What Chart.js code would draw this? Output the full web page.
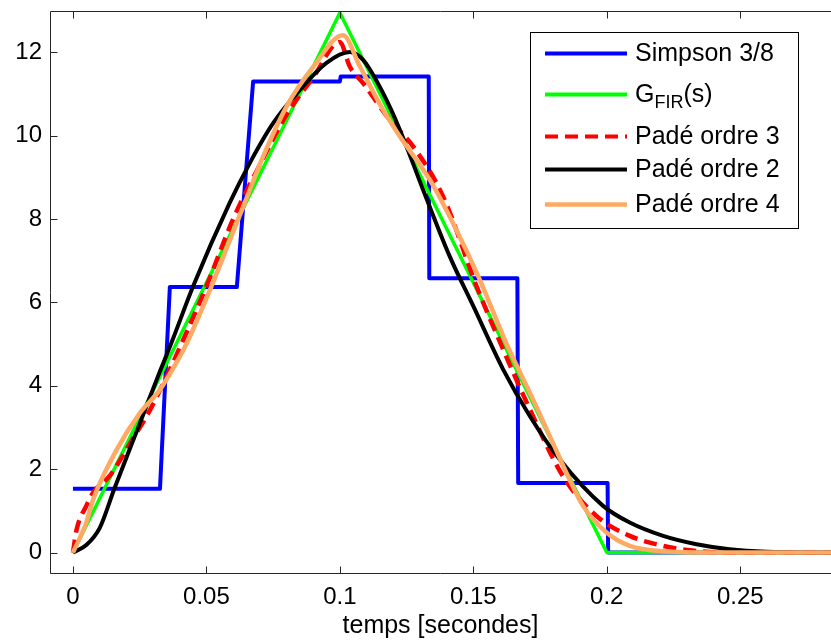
<!DOCTYPE html>
<html>
<head>
<meta charset="utf-8">
<script src="https://cdn.jsdelivr.net/npm/chart.js@4.4.0/dist/chart.umd.min.js"></script>
<style>
  html, body { margin: 0; padding: 0; background: #fff; }
  #wrap { width: 831px; height: 644px; }
</style>
</head>
<body>
<div id="wrap"><canvas id="response-chart"></canvas></div>
<script>
// tick values / labels
const xTicks = [0, 0.05, 0.1, 0.15, 0.2, 0.25];
const xTickLabels = ['0', '0.05', '0.1', '0.15', '0.2', '0.25'];
const yTicks = [0, 2, 4, 6, 8, 10, 12];
const yTickLabels = ['0', '2', '4', '6', '8', '10', '12'];

// Simpson 3/8 (staircase)
const simpsonT = [0, 0.0326, 0.0363, 0.0614, 0.0675, 0.1000, 0.1003, 0.1333, 0.1335, 0.1665, 0.1668, 0.2003, 0.2005, 0.284];
const simpsonY = [1.53, 1.53, 6.37, 6.37, 11.30, 11.30, 11.42, 11.42, 6.58, 6.58, 1.67, 1.67, 0, 0];

// G_FIR(s)
const firT = [0, 0.1, 0.2, 0.284];
const firY = [0, 12.95, 0, 0];

// Padé ordre 3
const pade3T = [0, 0.0014, 0.005, 0.0076, 0.0139, 0.0226, 0.0276, 0.0351, 0.0413, 0.05, 0.0600, 0.0700, 0.0800, 0.0900, 0.1, 0.1037, 0.1087, 0.1187, 0.1275, 0.1387, 0.1512, 0.1612, 0.17, 0.1836, 0.1961, 0.2086, 0.2211, 0.2335, 0.25, 0.284];
const pade3Y = [0, 0.56, 1.12, 1.44, 1.85, 2.75, 3.27, 4.23, 5.10, 6.39, 8.00, 9.30, 10.50, 11.40, 12.25, 11.66, 11.26, 10.38, 9.74, 8.54, 6.39, 4.87, 3.60, 1.83, 0.88, 0.40, 0.16, 0.04, 0, 0];

// Padé ordre 2
const pade2T = [0, 0.005, 0.0101, 0.0155, 0.0251, 0.0326, 0.037, 0.0451, 0.0588, 0.0663, 0.075, 0.085, 0.095, 0.1037, 0.1087, 0.1162, 0.1225, 0.1312, 0.1412, 0.15, 0.1612, 0.1712, 0.1824, 0.1986, 0.2086, 0.2211, 0.2336, 0.246, 0.26, 0.284];
const pade2Y = [0, 0.18, 0.60, 1.53, 3.11, 4.35, 5.05, 6.40, 8.40, 9.35, 10.30, 11.10, 11.75, 12.01, 11.82, 11.02, 10.14, 8.70, 7.10, 5.91, 4.39, 3.27, 2.23, 1.12, 0.72, 0.40, 0.20, 0.08, 0.02, 0];

// Padé ordre 4
const pade4T = [0, 0.005, 0.0076, 0.0164, 0.0251, 0.0326, 0.04, 0.0432, 0.0519, 0.0576, 0.0644, 0.0707, 0.0800, 0.0900, 0.1012, 0.1075, 0.1162, 0.1225, 0.1337, 0.1424, 0.1524, 0.1623, 0.1724, 0.1798, 0.186, 0.1911, 0.1999, 0.2086, 0.2211, 0.24, 0.284];
const pade4Y = [0, 0.72, 1.28, 2.47, 3.35, 3.91, 4.70, 5.10, 6.39, 7.30, 8.40, 9.42, 10.70, 11.65, 12.41, 11.66, 10.62, 9.98, 8.94, 7.90, 6.55, 5.03, 3.67, 2.63, 1.76, 1.12, 0.48, 0.16, 0.03, 0, 0];

const FONT = "'Liberation Sans', Arial, sans-serif";

const toPoints = (ts, ys) => ts.map((t, i) => ({ x: t, y: ys[i] }));

const legendRows = [
    { label: 'Simpson 3/8', color: '#0000FF', width: 4, dash: [] },
    { label: 'G', sub: 'FIR', after: '(s)', color: '#00FF00', width: 4, dash: [] },
    { label: 'Padé ordre 3', color: '#FF0000', width: 4, dash: [13, 7] },
    { label: 'Padé ordre 2', color: '#000000', width: 4, dash: [] },
    { label: 'Padé ordre 4', color: '#FFAA64', width: 4.5, dash: [] }
];

// matlab style box: inward ticks, top border, boxed legend
const matlabFrame = {
    id: 'matlabFrame',
    afterDatasetsDraw(chart) {
        const { ctx, chartArea: a, scales } = chart;
        const left = Math.round(a.left) + 0.5;
        const top = Math.round(a.top) + 0.5;
        const bottom = Math.round(a.bottom) + 0.5;
        ctx.save();
        ctx.strokeStyle = '#262626';
        ctx.lineWidth = 1;
        ctx.beginPath();
        ctx.moveTo(left, bottom); ctx.lineTo(left, top); ctx.lineTo(a.right, top);
        ctx.moveTo(left, bottom); ctx.lineTo(a.right, bottom);
        xTicks.forEach(v => {
            const px = Math.round(scales.x.getPixelForValue(v)) + 0.5;
            ctx.moveTo(px, bottom); ctx.lineTo(px, bottom - 7);
            ctx.moveTo(px, top); ctx.lineTo(px, top + 7);
        });
        yTicks.forEach(v => {
            const py = Math.round(scales.y.getPixelForValue(v)) + 0.5;
            ctx.moveTo(left, py); ctx.lineTo(left + 7, py);
        });
        ctx.stroke();

        // legend
        const bx = 530.5, by = 32.5, bw = 268, bh = 196;
        ctx.fillStyle = '#fff';
        ctx.fillRect(bx, by, bw, bh);
        ctx.strokeStyle = '#000';
        ctx.strokeRect(bx, by, bw, bh);
        const rowY = [53.5, 94.5, 136.5, 169.5, 204.5];
        ctx.textBaseline = 'middle';
        ctx.fillStyle = '#000';
        legendRows.forEach((r, i) => {
            const y = rowY[i];
            ctx.beginPath();
            ctx.strokeStyle = r.color;
            ctx.lineWidth = r.width;
            ctx.setLineDash(r.dash);
            ctx.moveTo(545, y); ctx.lineTo(627, y);
            ctx.stroke();
            ctx.setLineDash([]);
            ctx.font = '25px ' + FONT;
            let tx = 635;
            ctx.fillText(r.label, tx, y + 1);
            if (r.sub) {
                tx += ctx.measureText(r.label).width;
                ctx.font = '18px ' + FONT;
                ctx.fillText(r.sub, tx, y + 9);
                tx += ctx.measureText(r.sub).width;
                ctx.font = '25px ' + FONT;
                ctx.fillText(r.after, tx, y + 1);
            }
        });
        ctx.restore();
    }
};

const chartElement = document.getElementById('response-chart').getContext('2d');

const responseChart = new Chart(chartElement, {
    type: 'scatter',
    data: {
        datasets: [{
            label: 'Simpson 3/8',
            data: toPoints(simpsonT, simpsonY),
            borderColor: '#0000FF',
            borderWidth: 4,
            order: 4
        }, {
            label: 'G_FIR(s)',
            data: toPoints(firT, firY),
            borderColor: '#00FF00',
            borderWidth: 3.5,
            order: 3
        }, {
            label: 'Padé ordre 3',
            data: toPoints(pade3T, pade3Y),
            borderColor: '#FF0000',
            borderWidth: 4.5,
            borderDash: [13, 7],
            cubicInterpolationMode: 'monotone',
            order: 2
        }, {
            label: 'Padé ordre 2',
            data: toPoints(pade2T, pade2Y),
            borderColor: '#000000',
            borderWidth: 4,
            cubicInterpolationMode: 'monotone',
            order: 1
        }, {
            label: 'Padé ordre 4',
            data: toPoints(pade4T, pade4Y),
            borderColor: '#FFAA64',
            borderWidth: 4.5,
            cubicInterpolationMode: 'monotone',
            order: 0
        }]
    },
    options: {
        responsive: true,
        maintainAspectRatio: false,
        animation: false,
        showLine: true,
        elements: {
            point: { radius: 0, hoverRadius: 0 },
            line: { borderJoinStyle: 'round', borderCapStyle: 'butt', fill: false }
        },
        datasets: { scatter: { clip: 0 } },
        layout: { padding: { top: 10.7, left: 0, right: 0, bottom: 0 } },
        plugins: {
            legend: { display: false },
            tooltip: { enabled: false }
        },
        scales: {
            x: {
                type: 'linear',
                min: -0.0086,
                max: 0.284,
                afterBuildTicks: s => { s.ticks = xTicks.map(v => ({ value: v })); },
                afterFit: s => { s.height = 70.6; s.paddingLeft = 0; s.paddingRight = 0; },
                grid: { display: false, drawTicks: false },
                border: { display: false },
                ticks: {
                    callback: (v, i) => xTickLabels[i],
                    font: { family: FONT, size: 24 },
                    color: '#000',
                    padding: 10,
                    maxRotation: 0,
                    autoSkip: false
                },
                title: {
                    display: true,
                    text: 'temps [secondes]',
                    font: { family: FONT, size: 25 },
                    color: '#000',
                    padding: { top: 0, bottom: 3 }
                }
            },
            y: {
                type: 'linear',
                min: -0.5,
                max: 13,
                afterBuildTicks: s => { s.ticks = yTicks.map(v => ({ value: v })); },
                afterFit: s => { s.width = 50; s.paddingTop = 0; s.paddingBottom = 0; },
                grid: { display: false, drawTicks: false },
                border: { display: false },
                ticks: {
                    callback: (v, i) => yTickLabels[i],
                    font: { family: FONT, size: 24 },
                    color: '#000',
                    padding: 8,
                    autoSkip: false
                }
            }
        }
    },
    plugins: [matlabFrame]
});
</script>
</body>
</html>
